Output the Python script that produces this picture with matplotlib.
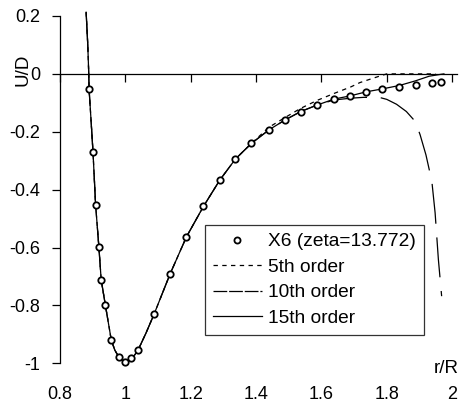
import matplotlib
matplotlib.use("Agg")
import matplotlib.pyplot as plt
from matplotlib.lines import Line2D

plt.rcParams['font.family'] = ['Liberation Sans', 'DejaVu Sans']
plt.rcParams['axes.unicode_minus'] = False

# X6 points
pts_x = [0.889, 0.901, 0.909, 0.919, 0.926, 0.939, 0.957, 0.980, 0.999, 1.018,
         1.039, 1.088, 1.137, 1.187, 1.239, 1.289, 1.337, 1.386, 1.440, 1.489,
         1.537, 1.586, 1.639, 1.688, 1.737, 1.786, 1.839, 1.888, 1.937, 1.966]
pts_y = [-0.053, -0.270, -0.453, -0.598, -0.711, -0.800, -0.920, -0.978, -0.995, -0.983,
         -0.954, -0.830, -0.691, -0.563, -0.458, -0.367, -0.294, -0.240, -0.193, -0.159,
         -0.130, -0.108, -0.087, -0.076, -0.062, -0.053, -0.046, -0.037, -0.032, -0.028]

# part shared by all fits
common_x = [0.880, 0.885, 0.888, 0.889, 0.895, 0.901, 0.909, 0.919, 0.926, 0.939,
            0.957, 0.968, 0.980, 0.990, 0.999, 1.008, 1.018, 1.028, 1.039, 1.063,
            1.088, 1.137, 1.187, 1.239, 1.289, 1.337, 1.386]
common_y = [0.213, 0.100, 0.000, -0.053, -0.160, -0.270, -0.453, -0.598, -0.711, -0.800,
            -0.920, -0.955, -0.978, -0.990, -0.995, -0.993, -0.983, -0.972, -0.954, -0.896,
            -0.830, -0.691, -0.563, -0.458, -0.367, -0.294, -0.240]

o5_x = [1.440, 1.490, 1.535, 1.586, 1.640, 1.690, 1.718, 1.750, 1.780, 1.800, 1.950]
o5_y = [-0.184, -0.150, -0.120, -0.092, -0.067, -0.045, -0.030, -0.018, -0.007, 0.000, 0.000]

o10_x = [1.440, 1.489, 1.537, 1.586, 1.639, 1.690, 1.730, 1.780, 1.800, 1.830, 1.860,
         1.887, 1.902, 1.920, 1.938, 1.948, 1.958, 1.968]
o10_y = [-0.193, -0.159, -0.130, -0.108, -0.090, -0.084, -0.081, -0.082, -0.088, -0.105, -0.130,
         -0.164, -0.210, -0.280, -0.371, -0.480, -0.641, -0.768]

o15_x = [1.440, 1.489, 1.537, 1.586, 1.639, 1.688, 1.737, 1.786, 1.839, 1.888, 1.930, 1.963, 1.975]
o15_y = [-0.193, -0.159, -0.130, -0.108, -0.087, -0.076, -0.062, -0.052, -0.040, -0.024, -0.008, -0.002, 0.000]

xticks = [0.8, 1.0, 1.2, 1.4, 1.6, 1.8, 2.0]
xlabels = ['0.8', '1', '1.2', '1.4', '1.6', '1.8', '2']
yticks = [0.2, 0.0, -0.2, -0.4, -0.6, -0.8, -1.0]
ylabels = ['0.2', '0', '-0.2', '-0.4', '-0.6', '-0.8', '-1']

fig = plt.figure(figsize=(4.7, 4.04), dpi=100)
ax = fig.add_axes([60/470, 32/404, 397/470, 356/404])
ax.set_xlim(0.8, 2.015)
ax.set_ylim(-1.03, 0.2)

lw = 0.9
ax.plot(common_x + o5_x, common_y + o5_y, color='black', lw=lw, dashes=(3.5, 3.5), clip_on=False)
ax.plot(common_x + o10_x, common_y + o10_y, color='black', lw=lw, dashes=(32, 11), clip_on=False)
ax.plot(common_x + o15_x, common_y + o15_y, color='black', lw=lw, clip_on=False)
ax.plot(pts_x, pts_y, ls='none', marker='o', ms=4.6, mew=1.3, mfc='white', mec='black', zorder=5)

for s in ['top', 'right']:
    ax.spines[s].set_visible(False)
ax.spines['left'].set_bounds(-1.0, 0.2)
ax.spines['bottom'].set_position(('data', 0))
for s in ['left', 'bottom']:
    ax.spines[s].set_linewidth(0.9)

ax.set_yticks(yticks, ylabels)
ax.tick_params(axis='y', length=6, width=0.9, pad=8, labelsize=13)
ax.set_xticks(xticks)
ax.tick_params(axis='x', length=6, width=0.9, labelbottom=False)

sec = ax.secondary_xaxis('bottom')
sec.set_xticks(xticks, xlabels)
sec.tick_params(length=0, pad=10, labelsize=13)
sec.spines['bottom'].set_visible(False)

ax.set_ylabel('U/D', fontsize=13.5)
ax.yaxis.set_label_coords(-0.072, 0.848)
ax.set_xlabel('r/R', fontsize=13.5)
ax.xaxis.set_label_coords(0.972, 0.033)

handles = [
    Line2D([], [], ls='none', marker='o', ms=4.4, mew=1.3, mfc='white', mec='black'),
    Line2D([], [], color='black', lw=lw, dashes=(3.5, 3.5)),
    Line2D([], [], color='black', lw=lw, dashes=(11, 1.5)),
    Line2D([], [], color='black', lw=lw),
]
labels = ['X6 (zeta=13.772)', '5th order', '10th order', '15th order']
leg = ax.legend(handles, labels, loc='upper left', bbox_to_anchor=(0.364, 0.413),
                borderaxespad=0, fontsize=13.8, fancybox=False, framealpha=1,
                edgecolor='#333333', numpoints=1, handlelength=2.6, handletextpad=0.3,
                labelspacing=0.42, borderpad=0.42)
leg.get_frame().set_linewidth(0.9)

fig.savefig('out.png', dpi=100)
